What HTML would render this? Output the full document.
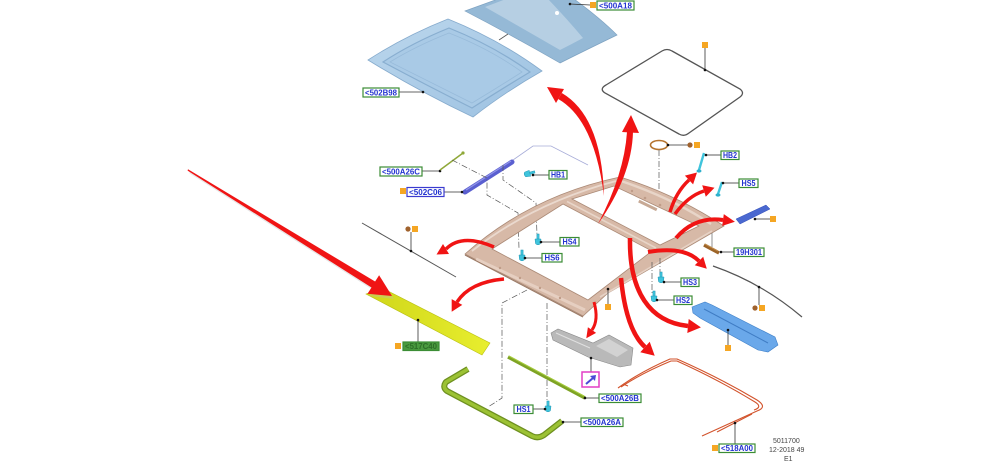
<!DOCTYPE html>
<html><head><meta charset="utf-8"><style>
html,body{margin:0;padding:0;background:#fff;}
svg{display:block;}
.lbl rect{fill:#fff;stroke:#3b8d35;stroke-width:1.2;}
.lbl text{font-family:"Liberation Sans",Arial,sans-serif;font-weight:bold;font-size:8px;fill:#2233d0;text-anchor:middle;}
.dd{fill:none;stroke:#555;stroke-width:0.7;stroke-dasharray:6 2 1 2;}
.ld{fill:none;stroke:#333;stroke-width:0.8;}
.red{fill:none;stroke:#f01414;stroke-linecap:butt;}
.rh{fill:#f01414;}
.os{fill:#f5a623;}
.bc{fill:#a0622d;}
.pin{fill:#3fc4dc;stroke:#1e96b4;stroke-width:0.5;}
</style></head><body>
<svg width="1000" height="465" viewBox="0 0 1000 465" xmlns="http://www.w3.org/2000/svg">
<defs>
<linearGradient id="g1" x1="0" y1="0" x2="1" y2="1">
<stop offset="0" stop-color="#bcd7ed"/><stop offset="1" stop-color="#9cc1e1"/>
</linearGradient>
<linearGradient id="gy" x1="0" y1="0" x2="1" y2="0">
<stop offset="0" stop-color="#cfd61a"/><stop offset="1" stop-color="#e8ee2e"/>
</linearGradient>
<g id="pin">
<rect x="-1.1" y="-8" width="2.2" height="5.5" class="pin"/>
<path d="M-3,-3 L3,-3 L2.4,1.8 Q0,3.8 -2.4,1.8 Z" class="pin"/>
</g>
</defs>

<!-- Glass panel 2 -->
<path d="M465,11 L498,-1 L574,-1 Q600,18 617,35 Q590,48 560,63 Q515,37 465,11 Z" fill="#95b9d6" stroke="#7fa3c2" stroke-width="0.7"/>
<path d="M485,7 L506,-1 L548,-1 Q568,20 583,38 Q572,44 560,50 Q522,28 485,7 Z" fill="#b6cfe3"/>
<circle cx="557" cy="13" r="2" fill="#fff"/>
<circle cx="570" cy="4" r="1.3" fill="#111"/>
<line x1="570" y1="4" x2="590" y2="5" class="ld"/>
<rect x="590" y="2" width="6" height="6" class="os"/>

<!-- Glass panel 1 -->
<path d="M368,60 Q405,36 448,19 Q500,40 542,71 Q505,92 473,117 Q420,92 368,60 Z" fill="url(#g1)" stroke="#86abcd" stroke-width="0.8"/>
<path d="M383,62 Q412,43 449,28 Q494,46 530,72 Q500,90 472,108 Q428,86 383,62 Z" fill="#a9cae6" stroke="#88aed0" stroke-width="1.2"/>
<path d="M390,62 Q416,46 449,33 Q490,49 522,72 Q497,88 472,103 Q432,83 390,62 Z" fill="none" stroke="#98bbda" stroke-width="0.8"/>
<line x1="499" y1="40" x2="508" y2="34" stroke="#555" stroke-width="0.8"/>
<line x1="399" y1="92" x2="423" y2="92" class="ld"/><circle cx="423" cy="92" r="1.3" fill="#111"/>

<!-- Seal ring -->
<path d="M606,85 L662,51 Q667,48 672,51 L740,89 Q745,93 740,97 L689,133 Q684,137 679,134 L605,93 Q599,89 606,85 Z" fill="none" stroke="#555" stroke-width="1.3"/>
<rect x="702" y="42" width="6" height="6" class="os"/>
<line x1="705" y1="48" x2="705" y2="70" class="ld"/><circle cx="705" cy="70" r="1.3" fill="#111"/>

<!-- brown ring -->
<ellipse cx="659" cy="145" rx="8.5" ry="4.5" fill="none" stroke="#b5742e" stroke-width="1.6"/>
<line x1="668" y1="145" x2="688" y2="145" class="ld"/><circle cx="668" cy="145" r="1.3" fill="#111"/>
<circle cx="690" cy="145" r="2.6" class="bc"/><rect x="694" y="142" width="6" height="6" class="os"/>
<path d="M659,150 L659,203" class="dd"/>

<!-- left upper parts -->
<line x1="422" y1="171" x2="440" y2="171" class="ld"/><circle cx="440" cy="171" r="1.3" fill="#111"/>
<line x1="440" y1="170" x2="463" y2="153" stroke="#8fa838" stroke-width="1.5"/><circle cx="463" cy="153" r="1.6" fill="#8fa838"/>
<path d="M465,192 L512,162" stroke="#5a5fd0" stroke-width="5" stroke-linecap="round" fill="none"/>
<path d="M466,190 L511,161" stroke="#9194e8" stroke-width="1.2" fill="none"/>
<line x1="444" y1="192" x2="462" y2="192" class="ld"/><circle cx="462" cy="192" r="1.3" fill="#111"/>
<rect x="400" y="188" width="6" height="6" class="os"/>
<path d="M513,160 L533,146 L551,146 L588,165" fill="none" stroke="#a7acd8" stroke-width="0.8"/>
<path d="M452,160 L487,178 L487,195 L518,213 L519,249" class="dd"/>
<path d="M503,165 L503,180 L536,203 L537,236" class="dd"/>

<!-- left gray line -->
<line x1="362" y1="223" x2="456" y2="277" stroke="#555" stroke-width="1"/>
<line x1="411" y1="232" x2="411" y2="251" class="ld"/><circle cx="411" cy="251" r="1.3" fill="#111"/>
<circle cx="408" cy="229" r="2.6" class="bc"/><rect x="412" y="226" width="6" height="6" class="os"/>

<!-- yellow strip -->
<polygon points="366,294 382,288 490,343 482,355" fill="url(#gy)" stroke="#b8bf12" stroke-width="0.6"/>
<line x1="418" y1="320" x2="418" y2="342" class="ld"/><circle cx="418" cy="320" r="1.3" fill="#111"/>
<rect x="395" y="343" width="6" height="6" class="os"/>

<!-- Frame -->
<path d="M465,254 Q530,196 620,177 Q675,194 724,226 L608,293 L583,316 Z M492,249 L588,300 L652,251 L563,204 Z M572,199 L660,245 L699,226 L614,186 Z" fill="#d7b9a7" fill-rule="evenodd" stroke="#ab8a76" stroke-width="0.8"/>
<path d="M472,251 Q533,203 616,181" stroke="#ead9ce" stroke-width="1.8" fill="none"/>
<path d="M567,201.5 L656,248" stroke="#e8d5c8" stroke-width="1.6" fill="none"/>
<path d="M621,181 Q672,198 711,224" stroke="#e8d5c8" stroke-width="2.5" fill="none"/>
<path d="M476,259 L585,310" stroke="#e6cfc1" stroke-width="3" fill="none"/>
<path d="M600,297 L712,231" stroke="#e6d2c5" stroke-width="1.6" fill="none"/>
<path d="M465,255 L583,317" stroke="#9b7a66" stroke-width="1.1" fill="none"/>
<g fill="#bf9c88"><circle cx="500" cy="268" r="1.2"/><circle cx="520" cy="278" r="1.2"/><circle cx="540" cy="288" r="1.2"/><circle cx="560" cy="298" r="1.2"/><circle cx="645" cy="198" r="1.3"/><circle cx="660" cy="205" r="1.3"/><circle cx="632" cy="191" r="1.2"/></g>
<rect x="638" y="204" width="20" height="3" fill="#c7a995" transform="rotate(26 648 205)"/>

<!-- frame leaders / dash lines -->
<line x1="608" y1="289" x2="608" y2="304" class="ld"/><circle cx="608" cy="289" r="1.3" fill="#111"/>
<rect x="605" y="304" width="6" height="6" class="os"/>
<path d="M652,262 L652,293" class="dd"/><path d="M660,258 L660,275" class="dd"/>
<path d="M527,290 L502,303 L502,398 L488,407" class="dd"/>
<path d="M547,303 L547,402" class="dd"/>
<line x1="712" y1="233" x2="712" y2="247" stroke="#777" stroke-width="0.8"/>

<!-- pins -->
<use href="#pin" transform="translate(538,242)"/>
<use href="#pin" transform="translate(522,258)"/>
<use href="#pin" transform="translate(661,280)"/>
<use href="#pin" transform="translate(654,299)"/>
<use href="#pin" transform="translate(548,409)"/>
<use href="#pin" transform="translate(527,174) rotate(75)"/>
<line x1="699" y1="170" x2="704" y2="153" stroke="#3fc4dc" stroke-width="2.4"/><ellipse cx="699" cy="171" rx="2.5" ry="1.6" fill="#2fb0cc"/>
<line x1="718" y1="194" x2="722" y2="182" stroke="#3fc4dc" stroke-width="2.4"/><ellipse cx="718" cy="195" rx="2.5" ry="1.6" fill="#2fb0cc"/>

<line x1="533" y1="175" x2="549" y2="175" class="ld"/><circle cx="533" cy="175" r="1.3" fill="#111"/>
<line x1="541" y1="242" x2="560" y2="242" class="ld"/><circle cx="541" cy="242" r="1.3" fill="#111"/>
<line x1="525" y1="258" x2="542" y2="258" class="ld"/><circle cx="525" cy="258" r="1.3" fill="#111"/>
<line x1="706" y1="155" x2="721" y2="155" class="ld"/><circle cx="706" cy="155" r="1.3" fill="#111"/>
<line x1="723" y1="183" x2="739" y2="183" class="ld"/><circle cx="723" cy="183" r="1.3" fill="#111"/>
<line x1="664" y1="282" x2="681" y2="282" class="ld"/><circle cx="664" cy="282" r="1.3" fill="#111"/>
<line x1="657" y1="300" x2="674" y2="300" class="ld"/><circle cx="657" cy="300" r="1.3" fill="#111"/>
<line x1="533" y1="409" x2="545" y2="409" class="ld"/><circle cx="545" cy="409" r="1.3" fill="#111"/>

<!-- right parts -->
<polygon points="736,219 766,205 770,209 740,224" fill="#4a68d0" stroke="#3450b8" stroke-width="0.5"/>
<line x1="755" y1="219" x2="770" y2="219" class="ld"/><circle cx="755" cy="219" r="1.3" fill="#111"/>
<rect x="770" y="216" width="6" height="6" class="os"/>
<path d="M704,245 L719,253" stroke="#9c6428" stroke-width="3.5" fill="none"/>
<path d="M705,244 L718,251" stroke="#c08a4a" stroke-width="1" fill="none"/>
<line x1="721" y1="252" x2="734" y2="252" class="ld"/><circle cx="721" cy="252" r="1.3" fill="#111"/>
<path d="M713,266 Q762,283 802,317" fill="none" stroke="#555" stroke-width="1.2"/>
<line x1="759" y1="287" x2="759" y2="305" class="ld"/><circle cx="759" cy="287" r="1.3" fill="#111"/>
<circle cx="755" cy="308" r="2.6" class="bc"/><rect x="759" y="305" width="6" height="6" class="os"/>
<polygon points="692,307 705,302 712,305 775,337 778,345 768,352 758,350 700,318 693,313" fill="#6aa8ea" stroke="#3d7fc8" stroke-width="0.6"/>
<path d="M704,309 L768,343" stroke="#3f7cc4" stroke-width="1" fill="none"/>
<line x1="728" y1="330" x2="728" y2="345" class="ld"/><circle cx="728" cy="330" r="1.3" fill="#111"/>
<rect x="725" y="345" width="6" height="6" class="os"/>

<!-- harness -->
<g fill="none" stroke="#d2532c" stroke-width="1.1">
<path d="M618,388 Q640,372 670,359 L677,359 Q720,378 757,400 Q768,407 757,411 L702,436"/>
<path d="M621,387 Q642,373 671,361 L677,361 Q719,380 755,402 Q763,407 754,410"/>
<path d="M717,432 L752,414"/>
<path d="M623,384 L628,386"/>
</g>
<line x1="735" y1="423" x2="735" y2="444" class="ld"/><circle cx="735" cy="423" r="1.3" fill="#111"/>
<rect x="712" y="445" width="6" height="6" class="os"/>

<!-- tray -->
<polygon points="551,333 558,329 593,343 609,335 633,348 631,365 620,367 588,357 553,340" fill="#b9b9b9" stroke="#8a8a8a" stroke-width="0.6"/>
<polygon points="596,346 609,339 628,350 617,357" fill="#d2d2d2"/>
<line x1="556" y1="333" x2="590" y2="348" stroke="#e0e0e0" stroke-width="1"/>
<line x1="591" y1="358" x2="591" y2="372" class="ld"/><circle cx="591" cy="358" r="1.3" fill="#111"/>
<rect x="582" y="372" width="17" height="15" fill="#fff" stroke="#e23fc6" stroke-width="1.5"/>
<path d="M586,384 L593,378" stroke="#4b4bd6" stroke-width="2" fill="none"/>
<polygon points="596,375 590,376 595,381" fill="#4b4bd6"/>

<!-- green parts -->
<path d="M508,357 L585,398" stroke="#7ea324" stroke-width="3.4" fill="none"/>
<path d="M509,356 L584,396" stroke="#a6cc3c" stroke-width="1" fill="none"/>
<line x1="585" y1="398" x2="599" y2="398" class="ld"/><circle cx="585" cy="398" r="1.3" fill="#111"/>
<path d="M468,369 L446,382 Q442,387 447,391 L532,436 Q538,439 544,435 L562,421" fill="none" stroke="#6e9020" stroke-width="6" stroke-linejoin="round"/>
<path d="M468,369 L446,382 Q442,387 447,391 L532,436 Q538,439 544,435 L562,421" fill="none" stroke="#9cc234" stroke-width="3.5" stroke-linejoin="round"/>
<line x1="563" y1="422" x2="581" y2="422" class="ld"/><circle cx="563" cy="422" r="1.3" fill="#111"/>

<!-- red arrows -->
<path d="M604,196 Q601.7,116.4 561.8,93 L558.2,99 Q594.3,119.6 604,196 Z" class="rh"/>
<polygon points="547,87 564,89 556,103" class="rh"/>
<path d="M598,224 Q631.8,176 633,132 L627,132 Q624.2,174 598,224 Z" class="rh"/>
<polygon points="631,115 639,133 622,132" class="rh"/>

<path d="M494,247 Q462,233 446,249" class="red" stroke-width="3.5"/>
<polygon points="436.5,254.5 443,244 449,254" class="rh"/>
<path d="M504,279 Q470,282 457,302" class="red" stroke-width="3.5"/>
<polygon points="451.7,311.7 462.3,304.9 451.7,299.1" class="rh"/>
<path d="M594,302 Q599,320 592,330" class="red" stroke-width="3"/>
<polygon points="586.3,338.2 596.1,332.9 587.9,327.2" class="rh"/>
<path d="M621,278 Q626,330 645,347" class="red" stroke-width="4.5"/>
<polygon points="654.7,355.7 640.3,352.2 649.7,341.8" class="rh"/>
<path d="M630,238 C629,292 650,322 688,326" class="red" stroke-width="4.5"/>
<polygon points="700.9,327.4 687.3,333 688.7,319" class="rh"/>
<path d="M648,252 Q684,246 699,261" class="red" stroke-width="4"/>
<polygon points="706.8,268.8 694.8,265.2 703.2,256.8" class="rh"/>
<path d="M676,238 Q695,216 723,220" class="red" stroke-width="4"/>
<polygon points="734.9,221.7 722.2,225.9 723.8,214.1" class="rh"/>
<path d="M670,212 Q676,192 689,180" class="red" stroke-width="3.5"/>
<polygon points="697,172.5 693.1,184.4 684.9,175.6" class="rh"/>
<path d="M675,214 Q688,196 704,191" class="red" stroke-width="3.5"/>
<polygon points="714.5,187.7 705.8,196.7 702.2,185.3" class="rh"/>

<!-- big diagonal arrow -->
<polygon points="190,172 377,284 381,278 394,299 369,296 373,290 189,173" fill="#bbb" opacity="0.35"/>
<polygon points="188,169.3 375.1,281.5 379.1,275.2 392,296 367.5,293.8 371.5,287.5 187.6,170.6" class="rh"/>

<!-- labels -->
<g class="lbl">
<rect x="597" y="1" width="37" height="9"/><text x="615.5" y="8.4" textLength="33" lengthAdjust="spacingAndGlyphs">&lt;500A18</text>
<rect x="363" y="88" width="36" height="9"/><text x="381" y="95.4" textLength="32" lengthAdjust="spacingAndGlyphs">&lt;502B98</text>
<rect x="380" y="167" width="42" height="9"/><text x="401" y="174.4" textLength="38" lengthAdjust="spacingAndGlyphs">&lt;500A26C</text>
<rect x="407" y="187.5" width="37" height="9" style="stroke:#3b3bd0"/><text x="425.5" y="194.9" textLength="33" lengthAdjust="spacingAndGlyphs">&lt;502C06</text>
<rect x="549" y="170.5" width="18" height="8.5"/><text x="558" y="177.7" textLength="14" lengthAdjust="spacingAndGlyphs">HB1</text>
<rect x="560" y="237.5" width="19" height="8.5"/><text x="569.5" y="244.7" textLength="14" lengthAdjust="spacingAndGlyphs">HS4</text>
<rect x="542" y="253.5" width="20" height="8.5"/><text x="552" y="260.7" textLength="15" lengthAdjust="spacingAndGlyphs">HS6</text>
<rect x="721" y="151" width="18" height="8.5"/><text x="730" y="158.2" textLength="14" lengthAdjust="spacingAndGlyphs">HB2</text>
<rect x="739" y="179" width="19" height="8.5"/><text x="748.5" y="186.2" textLength="14" lengthAdjust="spacingAndGlyphs">HS5</text>
<rect x="734" y="248" width="30" height="8.5"/><text x="749" y="255.2" textLength="26" lengthAdjust="spacingAndGlyphs">19H301</text>
<rect x="681" y="278" width="18" height="8.5"/><text x="690" y="285.2" textLength="14" lengthAdjust="spacingAndGlyphs">HS3</text>
<rect x="674" y="296" width="18" height="8.5"/><text x="683" y="303.2" textLength="14" lengthAdjust="spacingAndGlyphs">HS2</text>
<rect x="599" y="394" width="42" height="8.5"/><text x="620" y="401.2" textLength="38" lengthAdjust="spacingAndGlyphs">&lt;500A26B</text>
<rect x="581" y="418" width="42" height="8.5"/><text x="602" y="425.2" textLength="38" lengthAdjust="spacingAndGlyphs">&lt;500A26A</text>
<rect x="514" y="405" width="19" height="8.5"/><text x="523.5" y="412.2" textLength="14" lengthAdjust="spacingAndGlyphs">HS1</text>
<rect x="719" y="444" width="36" height="8.5"/><text x="737" y="451.2" textLength="32" lengthAdjust="spacingAndGlyphs">&lt;518A00</text>
<rect x="403" y="342" width="36" height="8.5" style="fill:#4a9a3f"/><text x="421" y="349.2" textLength="32" lengthAdjust="spacingAndGlyphs" style="fill:#2d6e28">&lt;517C40</text>
</g>

<!-- footer text -->
<g font-family="Liberation Sans, Arial, sans-serif" font-size="7" fill="#444">
<text x="773" y="443">5011700</text>
<text x="769" y="452">12-2018 49</text>
<text x="784" y="461">E1</text>
</g>
</svg>
</body></html>
